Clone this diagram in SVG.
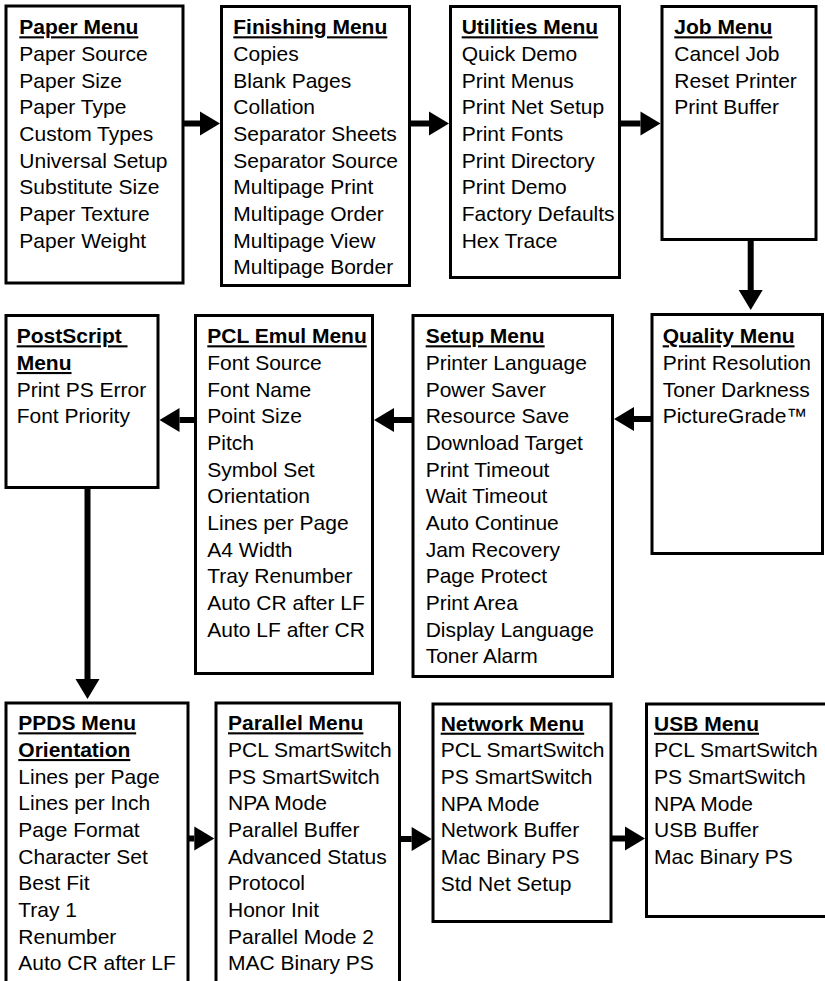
<svg xmlns="http://www.w3.org/2000/svg" width="825" height="981" viewBox="0 0 825 981">
<style>
.box{fill:#fff;stroke:#000;stroke-width:3}
text{font-family:"Liberation Sans",Arial,sans-serif;font-size:21px;fill:#000}
.t{font-weight:bold;text-decoration:underline;white-space:pre}
.c{stroke:#000;stroke-width:6;fill:none;marker-end:url(#ah)}
</style>
<defs>
<marker id="ah" markerUnits="userSpaceOnUse" markerWidth="20" markerHeight="24" refX="0" refY="12" orient="auto" overflow="visible">
<path d="M0,0 L20,12 L0,24 Z" fill="#000"/>
</marker>
</defs>
<rect width="825" height="981" fill="#fff"/>
<g id="connectors">
<line class="c" x1="183" y1="123.5" x2="200" y2="123.5"/>
<line class="c" x1="410" y1="123.5" x2="429" y2="123.5"/>
<line class="c" x1="620" y1="123.5" x2="640.5" y2="123.5"/>
<line class="c" x1="750.7" y1="240" x2="750.7" y2="290"/>
<line class="c" x1="652" y1="419" x2="634" y2="419"/>
<line class="c" x1="414" y1="420" x2="394" y2="420"/>
<line class="c" x1="197" y1="420" x2="179.5" y2="420"/>
<line class="c" x1="87.5" y1="488" x2="87.5" y2="679"/>
<line class="c" x1="188" y1="838.5" x2="194.3" y2="838.5"/>
<line class="c" x1="400" y1="839" x2="411.7" y2="839"/>
<line class="c" x1="611.5" y1="838.5" x2="625" y2="838.5"/>
</g>
<g id="paper">
<rect class="box" x="6" y="6" width="177" height="277"/>
<text class="t" x="19.3" y="34.3">Paper Menu</text>
<text x="19.3" y="61">Paper Source</text>
<text x="19.3" y="87.6">Paper Size</text>
<text x="19.3" y="114.3">Paper Type</text>
<text x="19.3" y="141">Custom Types</text>
<text x="19.3" y="167.6">Universal Setup</text>
<text x="19.3" y="194.3">Substitute Size</text>
<text x="19.3" y="221">Paper Texture</text>
<text x="19.3" y="247.6">Paper Weight</text>
</g>
<g id="finishing">
<rect class="box" x="221.5" y="6.5" width="188" height="279"/>
<text class="t" x="233.3" y="34.3">Finishing Menu</text>
<text x="233.3" y="61">Copies</text>
<text x="233.3" y="87.6">Blank Pages</text>
<text x="233.3" y="114.3">Collation</text>
<text x="233.3" y="141">Separator Sheets</text>
<text x="233.3" y="167.6">Separator Source</text>
<text x="233.3" y="194.3">Multipage Print</text>
<text x="233.3" y="221">Multipage Order</text>
<text x="233.3" y="247.6">Multipage View</text>
<text x="233.3" y="274.3">Multipage Border</text>
</g>
<g id="utilities">
<rect class="box" x="450.5" y="6.5" width="169" height="271"/>
<text class="t" x="461.7" y="34.3">Utilities Menu</text>
<text x="461.7" y="61">Quick Demo</text>
<text x="461.7" y="87.6">Print Menus</text>
<text x="461.7" y="114.3">Print Net Setup</text>
<text x="461.7" y="141">Print Fonts</text>
<text x="461.7" y="167.6">Print Directory</text>
<text x="461.7" y="194.3">Print Demo</text>
<text x="461.7" y="221">Factory Defaults</text>
<text x="461.7" y="247.6">Hex Trace</text>
</g>
<g id="job">
<rect class="box" x="662" y="6.5" width="154" height="233"/>
<text class="t" x="674.3" y="34.3">Job Menu</text>
<text x="674.3" y="61">Cancel Job</text>
<text x="674.3" y="87.6">Reset Printer</text>
<text x="674.3" y="114.3">Print Buffer</text>
</g>
<g id="quality">
<rect class="box" x="652" y="314.5" width="170.5" height="239"/>
<text class="t" x="662.7" y="343.3">Quality Menu</text>
<text x="662.7" y="370">Print Resolution</text>
<text x="662.7" y="396.6">Toner Darkness</text>
<text x="662.7" y="423.3">PictureGrade™</text>
</g>
<g id="setup">
<rect class="box" x="413" y="315.5" width="199.5" height="361"/>
<text class="t" x="425.7" y="343.3">Setup Menu</text>
<text x="425.7" y="370">Printer Language</text>
<text x="425.7" y="396.6">Power Saver</text>
<text x="425.7" y="423.3">Resource Save</text>
<text x="425.7" y="450">Download Target</text>
<text x="425.7" y="476.6">Print Timeout</text>
<text x="425.7" y="503.3">Wait Timeout</text>
<text x="425.7" y="530">Auto Continue</text>
<text x="425.7" y="556.6">Jam Recovery</text>
<text x="425.7" y="583.3">Page Protect</text>
<text x="425.7" y="610">Print Area</text>
<text x="425.7" y="636.6">Display Language</text>
<text x="425.7" y="663.3">Toner Alarm</text>
</g>
<g id="pcl">
<rect class="box" x="195.5" y="315.5" width="177" height="358"/>
<text class="t" x="207.3" y="343.3">PCL Emul Menu</text>
<text x="207.3" y="370">Font Source</text>
<text x="207.3" y="396.6">Font Name</text>
<text x="207.3" y="423.3">Point Size</text>
<text x="207.3" y="450">Pitch</text>
<text x="207.3" y="476.6">Symbol Set</text>
<text x="207.3" y="503.3">Orientation</text>
<text x="207.3" y="530">Lines per Page</text>
<text x="207.3" y="556.6">A4 Width</text>
<text x="207.3" y="583.3">Tray Renumber</text>
<text x="207.3" y="610">Auto CR after LF</text>
<text x="207.3" y="636.6">Auto LF after CR</text>
</g>
<g id="postscript">
<rect class="box" x="6" y="315.5" width="152" height="172"/>
<text class="t" x="16.7" y="343.3">PostScript </text>
<text class="t" x="16.7" y="370">Menu</text>
<text x="16.7" y="396.6">Print PS Error</text>
<text x="16.7" y="423.3">Font Priority</text>
</g>
<g id="ppds">
<rect class="box" x="6" y="703" width="182" height="300"/>
<text class="t" x="18.3" y="730.3">PPDS Menu</text>
<text class="t" x="18.3" y="757">Orientation</text>
<text x="18.3" y="783.6">Lines per Page</text>
<text x="18.3" y="810.3">Lines per Inch</text>
<text x="18.3" y="837">Page Format</text>
<text x="18.3" y="863.6">Character Set</text>
<text x="18.3" y="890.3">Best Fit</text>
<text x="18.3" y="917">Tray 1</text>
<text x="18.3" y="943.6">Renumber</text>
<text x="18.3" y="970.3">Auto CR after LF</text>
</g>
<g id="parallel">
<rect class="box" x="216" y="703" width="183.5" height="300"/>
<text class="t" x="228" y="730.3">Parallel Menu</text>
<text x="228" y="757">PCL SmartSwitch</text>
<text x="228" y="783.6">PS SmartSwitch</text>
<text x="228" y="810.3">NPA Mode</text>
<text x="228" y="837">Parallel Buffer</text>
<text x="228" y="863.6">Advanced Status</text>
<text x="228" y="890.3">Protocol</text>
<text x="228" y="917">Honor Init</text>
<text x="228" y="943.6">Parallel Mode 2</text>
<text x="228" y="970.3">MAC Binary PS</text>
</g>
<g id="network">
<rect class="box" x="433" y="704" width="178" height="217.5"/>
<text class="t" x="440.7" y="730.7">Network Menu</text>
<text x="440.7" y="757.3">PCL SmartSwitch</text>
<text x="440.7" y="784">PS SmartSwitch</text>
<text x="440.7" y="810.7">NPA Mode</text>
<text x="440.7" y="837.3">Network Buffer</text>
<text x="440.7" y="864">Mac Binary PS</text>
<text x="440.7" y="890.7">Std Net Setup</text>
</g>
<g id="usb">
<rect class="box" x="646.5" y="704" width="200" height="212.5"/>
<text class="t" x="654" y="730.7">USB Menu</text>
<text x="654" y="757.3">PCL SmartSwitch</text>
<text x="654" y="784">PS SmartSwitch</text>
<text x="654" y="810.7">NPA Mode</text>
<text x="654" y="837.3">USB Buffer</text>
<text x="654" y="864">Mac Binary PS</text>
</g>
</svg>
